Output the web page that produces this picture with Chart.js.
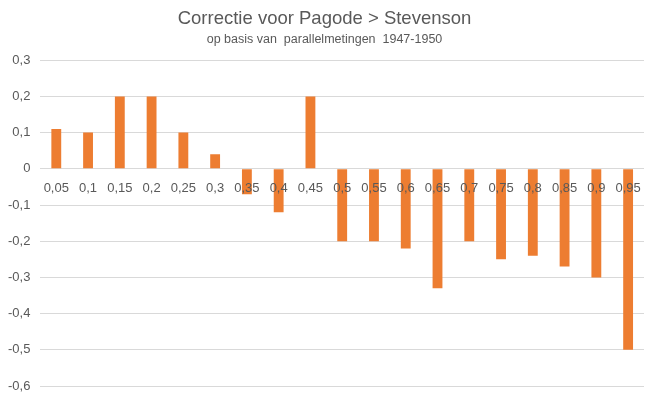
<!DOCTYPE html>
<html>
<head>
<meta charset="utf-8">
<script src="https://cdn.jsdelivr.net/npm/chart.js@4/dist/chart.umd.min.js"></script>
<style>
  html, body { margin: 0; padding: 0; background: #fff; }
  #wrap { width: 653px; height: 397px; }
</style>
</head>
<body>
<div id="wrap"><canvas id="chart"></canvas></div>
<script>
// Categories (x) and corrections (y)
const categories = ['0,05', '0,1', '0,15', '0,2', '0,25', '0,3', '0,35', '0,4', '0,45', '0,5',
                    '0,55', '0,6', '0,65', '0,7', '0,75', '0,8', '0,85', '0,9', '0,95'];
const corrections = [0.11, 0.10, 0.20, 0.20, 0.10, 0.04, -0.07, -0.12, 0.20, -0.20,
                     -0.20, -0.22, -0.33, -0.20, -0.25, -0.24, -0.27, -0.30, -0.50];
const yMin = -0.6;
const yMax = 0.3;

const textColor = '#595959';
const gridColor = '#d9d9d9';
const barColor = '#ed7d31';
const fontFamily = "'Liberation Sans', Arial, sans-serif";

const ctx = document.getElementById('chart').getContext('2d');

new Chart(ctx, {
    type: 'bar',
    data: {
        labels: categories,
        datasets: [{
            data: corrections,
            backgroundColor: barColor,
            barPercentage: 0.31,
            categoryPercentage: 1,
        }],
    },
    options: {
        responsive: true,
        maintainAspectRatio: false,
        animation: false,
        layout: {
            padding: { left: 5, right: 9, top: 0, bottom: 11 }
        },
        plugins: {
            legend: { display: false },
            tooltip: { enabled: false },
            title: {
                display: true,
                text: 'Correctie voor Pagode > Stevenson',
                color: textColor,
                font: { size: 18.5, weight: 'normal', family: fontFamily },
                padding: { top: 8, bottom: 2 },
            },
            subtitle: {
                display: true,
                text: 'op basis van  parallelmetingen  1947-1950',
                color: textColor,
                font: { size: 12.5, family: fontFamily },
                padding: { bottom: 13 },
            },
        },
        scales: {
            x: {
                position: { y: 0 },
                // labels sit on the zero line, so the axis needs no room below the plot
                afterFit: (scale) => { scale.height = 0; },
                grid: { display: false },
                border: { display: false },
                ticks: {
                    z: 1,
                    color: textColor,
                    font: { size: 13, family: fontFamily },
                    maxRotation: 0,
                    autoSkip: false,
                    padding: 4,
                },
            },
            y: {
                min: yMin,
                max: yMax,
                // invisible tick marks make the gap to the labels
                // (a big ticks.padding would also pad the bottom of the plot)
                grid: { color: gridColor, lineWidth: 1, drawTicks: true, tickLength: 7, tickColor: 'rgba(0,0,0,0)' },
                border: { display: false },
                ticks: {
                    stepSize: 0.1,
                    color: textColor,
                    padding: 3,
                    font: { size: 13, family: fontFamily },
                    callback: (v) => String(Math.round(v * 10) / 10).replace('.', ','),
                },
            },
        },
    },
});
</script>
</body>
</html>
